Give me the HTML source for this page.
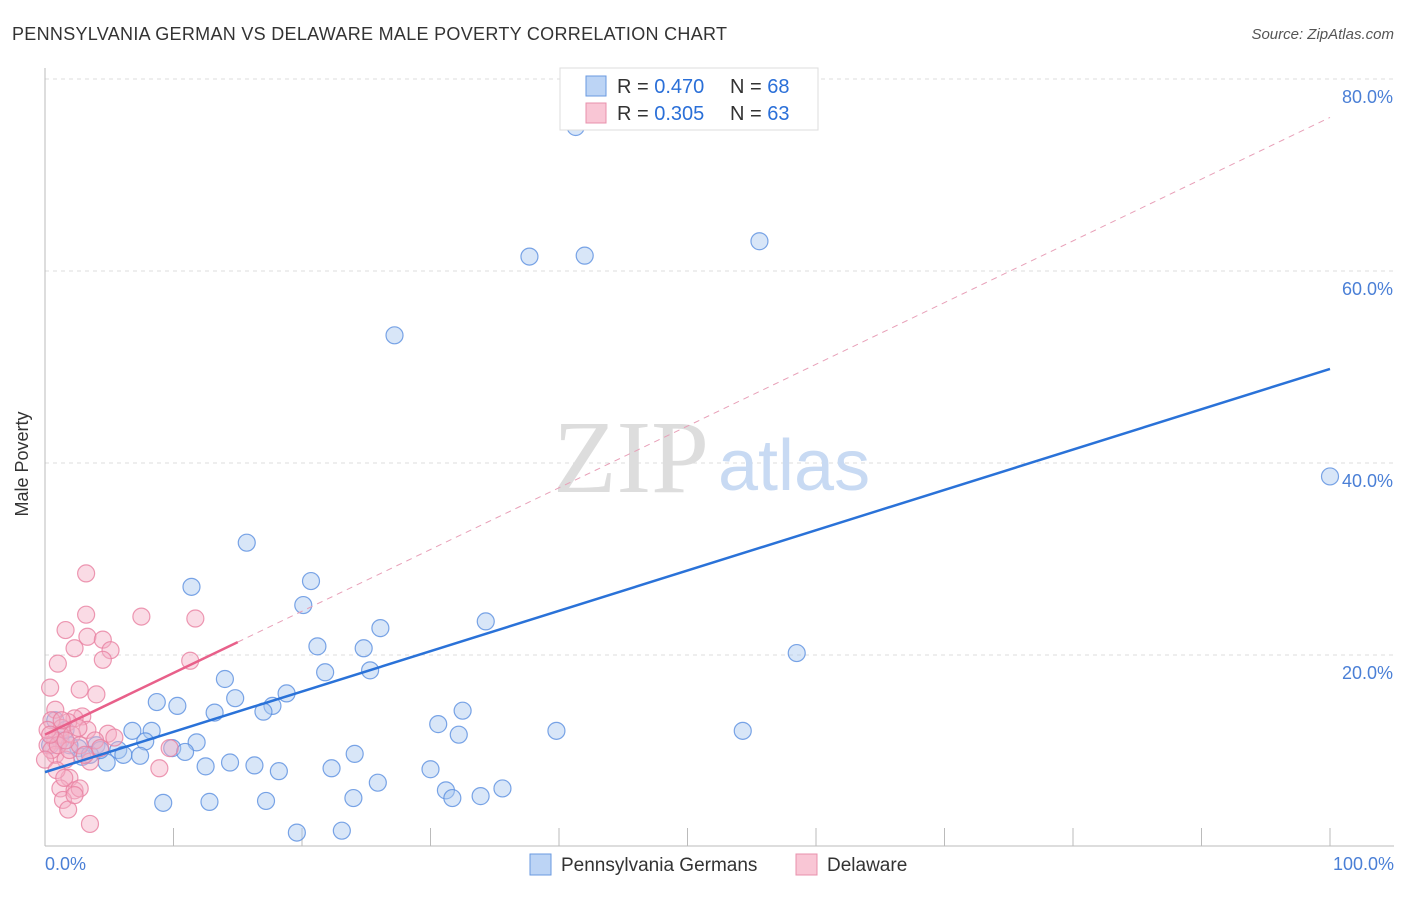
<!DOCTYPE html>
<html><head><meta charset="utf-8"><style>
body{margin:0;background:#fff;font-family:"Liberation Sans",sans-serif}
</style></head><body>
<svg width="1406" height="892" xmlns="http://www.w3.org/2000/svg">
<text x="12" y="40" font-size="18" fill="#333" textLength="715">PENNSYLVANIA GERMAN VS DELAWARE MALE POVERTY CORRELATION CHART</text>
<text x="1394" y="39" font-size="15" fill="#555" font-style="italic" text-anchor="end">Source: ZipAtlas.com</text>
<g id="grid"></g>
<g>
<text x="553" y="492" font-size="104" font-family="Liberation Serif,serif" fill="#ddd">ZIP</text>
<text x="718" y="490" font-size="72" fill="#c8daf3">atlas</text>
</g>
<line x1="45" y1="68" x2="45" y2="846" stroke="#bbb"/>
<line x1="45" y1="846" x2="1394" y2="846" stroke="#bbb"/>
<text x="20" y="456" font-size="18" fill="#333" transform="rotate(-90 28 456)" text-anchor="middle">Male Poverty</text>
<text x="45" y="870" font-size="18" fill="#4a7fd6">0.0%</text>
<text x="1394" y="870" font-size="18" fill="#4a7fd6" text-anchor="end">100.0%</text>
<g id="pts"></g>
<g id="lines"></g>
<g>
<rect x="560" y="68" width="258" height="62" fill="#fff" stroke="#ddd"/>
<rect x="586" y="76" width="20" height="20" fill="#bcd4f5" stroke="#6a9ae0"/>
<rect x="586" y="103" width="20" height="20" fill="#f9c6d5" stroke="#e890ac"/>
<text x="617" y="93" font-size="20" fill="#333">R = <tspan fill="#2a6fd8">0.470</tspan></text>
<text x="730" y="93" font-size="20" fill="#333">N = <tspan fill="#2a6fd8">68</tspan></text>
<text x="617" y="120" font-size="20" fill="#333">R = <tspan fill="#2a6fd8">0.305</tspan></text>
<text x="730" y="120" font-size="20" fill="#333">N = <tspan fill="#2a6fd8">63</tspan></text>
</g>
<g>
<rect x="530" y="854" width="21" height="21" fill="#bcd4f5" stroke="#6a9ae0"/>
<text x="561" y="871" font-size="19" fill="#333">Pennsylvania Germans</text>
<rect x="796" y="854" width="21" height="21" fill="#f9c6d5" stroke="#e890ac"/>
<text x="827" y="871" font-size="19" fill="#333">Delaware</text>
</g>
</svg>
<script>
const yTicks=[20,40,60,80];
const xTicks=[10,20,30,40,50,60,70,80,90,100];
const blueX=[41.3,37.7,42.0,55.6,27.2,100,15.7,11.4,20.7,20.1,34.3,26.1,21.2,24.8,58.5,21.8,25.3,14.0,8.7,10.3,14.8,18.8,17.7,17.0,13.2,32.5,30.6,32.2,39.8,54.3,8.3,6.8,7.8,11.8,9.9,10.9,4.0,2.6,5.7,6.1,7.4,2.9,4.8,24.1,12.5,14.4,16.3,18.2,22.3,30.0,25.9,31.2,31.7,33.9,35.6,24.0,9.2,12.8,17.2,19.6,23.1,0.8,1.2,1.9,0.4,1.6,3.5,4.3];
const blueY=[75.0,61.5,61.6,63.1,53.3,38.6,31.7,27.1,27.7,25.2,23.5,22.8,20.9,20.7,20.2,18.2,18.4,17.5,15.1,14.7,15.5,16.0,14.7,14.1,14.0,14.2,12.8,11.7,12.1,12.1,12.1,12.1,11.0,10.9,10.3,9.9,10.6,10.3,10.1,9.6,9.5,9.4,8.8,9.7,8.4,8.8,8.5,7.9,8.2,8.1,6.7,5.9,5.1,5.3,6.1,5.1,4.6,4.7,4.8,1.5,1.7,13.2,11.1,10.6,10.6,12.2,9.6,10.1];
const pinkX=[3.2,7.5,11.7,3.2,1.6,3.3,4.5,2.3,5.1,4.5,1.0,11.3,0.4,2.7,4.0,0.8,0.5,2.9,2.3,1.8,1.3,1.2,4.9,5.4,9.7,8.9,0.8,0.2,0.8,1.6,3.5,1.9,1.2,2.3,2.7,1.4,1.8,3.5,0.2,0.5,1.0,1.9,3.3,3.9,2.1,2.7,0,1.3,4.3,0.4,1.6,2.6,3.1,0.9,2.3,1.5];
const pinkY=[28.5,24.0,23.8,24.2,22.6,21.9,21.6,20.7,20.5,19.5,19.1,19.4,16.6,16.4,15.9,14.3,13.2,13.6,13.4,13.0,12.4,11.7,11.8,11.4,10.3,8.2,11.1,10.6,9.6,9.1,8.9,7.2,6.1,5.9,6.1,4.9,3.9,2.4,12.2,10.1,10.6,10.1,12.2,11.1,11.7,10.6,9.1,13.2,10.3,11.7,11.1,12.4,9.6,8.0,5.4,7.2];
const blueTrend=[7.8,49.8];
const pinkTrend=[11.7,76.0];
const pinkSolidEnd=15;
const NS='http://www.w3.org/2000/svg';
const X=v=>45+v*12.85, Y=v=>847-v*9.6;
const grid=document.getElementById('grid');
yTicks.forEach(t=>{
 const l=document.createElementNS(NS,'line');
 
 
 l.setAttribute('x1',45);l.setAttribute('x2',1394);l.setAttribute('y1',Y(t));l.setAttribute('y2',Y(t));
 l.setAttribute('stroke','#ddd');l.setAttribute('stroke-dasharray','4 4');grid.appendChild(l);
 const tx=document.createElementNS(NS,'text');
 
 
 tx.setAttribute('x',1393);tx.setAttribute('y',Y(t)+24);tx.setAttribute('text-anchor','end');
 tx.setAttribute('font-size','18');tx.setAttribute('fill','#4a7fd6');tx.textContent=t.toFixed(1)+'%';grid.appendChild(tx);
});
xTicks.forEach(t=>{
 const l=document.createElementNS(NS,'line');
 
 
 l.setAttribute('x1',X(t));l.setAttribute('x2',X(t));l.setAttribute('y1',828);l.setAttribute('y2',846);
 l.setAttribute('stroke','#bbb');grid.appendChild(l);
});
const pts=document.getElementById('pts');
function dots(xs,ys,fill,stroke,name){
 xs.forEach((x,i)=>{
  const c=document.createElementNS(NS,'circle');
  
  
  c.setAttribute('cx',X(x));c.setAttribute('cy',Y(ys[i]));c.setAttribute('r',8.5);
  c.setAttribute('fill',fill);c.setAttribute('fill-opacity','0.45');c.setAttribute('stroke',stroke);c.setAttribute('stroke-opacity','0.8');c.setAttribute('stroke-width','1.2');
  pts.appendChild(c);
 });
}
dots(blueX,blueY,'#a8c8f0','#5a8ee0','blue-point');
dots(pinkX,pinkY,'#f5b0c5','#e87fa0','pink-point');
const lines=document.getElementById('lines');
function ln(x1,y1,x2,y2,col,w,dash,name){
 const l=document.createElementNS(NS,'line');
 
 
 l.setAttribute('x1',X(x1));l.setAttribute('y1',Y(y1));l.setAttribute('x2',X(x2));l.setAttribute('y2',Y(y2));
 l.setAttribute('stroke',col);l.setAttribute('stroke-width',w);if(dash)l.setAttribute('stroke-dasharray',dash);
 lines.appendChild(l);
}
const pAt=x=>pinkTrend[0]+(pinkTrend[1]-pinkTrend[0])*x/100;
ln(pinkSolidEnd,pAt(pinkSolidEnd),100,pinkTrend[1],'#e8a0b8',1,'6 5','pink-trend-dashed');
ln(0,pinkTrend[0],pinkSolidEnd,pAt(pinkSolidEnd),'#e8608a',2.5,null,'pink-trend-line');
ln(0,blueTrend[0],100,blueTrend[1],'#2a72d8',2.5,null,'blue-trend-line');
</script>
</body></html>
